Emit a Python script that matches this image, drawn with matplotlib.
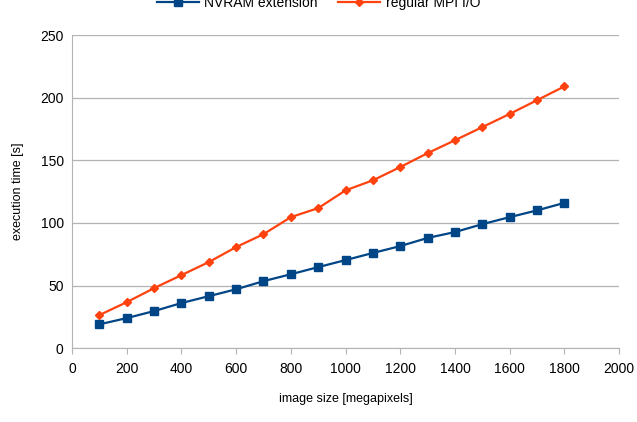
import matplotlib
matplotlib.use('Agg')
import matplotlib.pyplot as plt

plt.rcParams['font.family'] = ['Liberation Sans', 'DejaVu Sans']

image_size = [100, 200, 300, 400, 500, 600, 700, 800, 900, 1000,
              1100, 1200, 1300, 1400, 1500, 1600, 1700, 1800]
nvram = [19, 24, 29.6, 36, 41.5, 47, 53.5, 59, 64.7, 70.3,
         76, 81.5, 88, 92.7, 99, 104.6, 110, 116]
regular = [26.4, 36.7, 47.9, 58.3, 68.7, 80.7, 91, 104.6, 111.8, 126,
           134, 144.6, 155.7, 166, 176.5, 187, 198, 209]

fig = plt.figure(figsize=(6.37, 4.22), dpi=100)
ax = fig.add_axes([0.113, 0.175, 0.859, 0.742])

ax.plot(image_size, nvram, color='#004586', marker='s', markersize=6,
        linewidth=1.6, label='NVRAM extension')
ax.plot(image_size, regular, color='#ff420e', marker='D', markersize=4.5,
        linewidth=1.6, label='regular MPI I/O')

ax.set_xlim(0, 2000)
ax.set_ylim(0, 250)
ax.set_xticks(range(0, 2001, 200))
ax.set_yticks(range(0, 251, 50))
ax.yaxis.grid(True, color='#b3b3b3', linewidth=0.9)
ax.set_axisbelow(True)
for s in ['top', 'right']:
    ax.spines[s].set_visible(False)
for s in ['left', 'bottom']:
    ax.spines[s].set_color('#b3b3b3')
ax.tick_params(axis='x', length=4, color='#b3b3b3', labelsize=10, pad=6)
ax.tick_params(axis='y', length=0, labelsize=10, pad=6)

ax.set_xlabel('image size [megapixels]', fontsize=9, labelpad=12)
ax.set_ylabel('execution time [s]', fontsize=9, labelpad=12)

# legend sits partly above the top edge, as in the original export
fig.legend(loc='center', bbox_to_anchor=(0.5, 0.993), ncol=2, frameon=False,
           fontsize=10, handlelength=3.0, handletextpad=0.4, columnspacing=1.5)

fig.savefig('out.png', dpi=100)
